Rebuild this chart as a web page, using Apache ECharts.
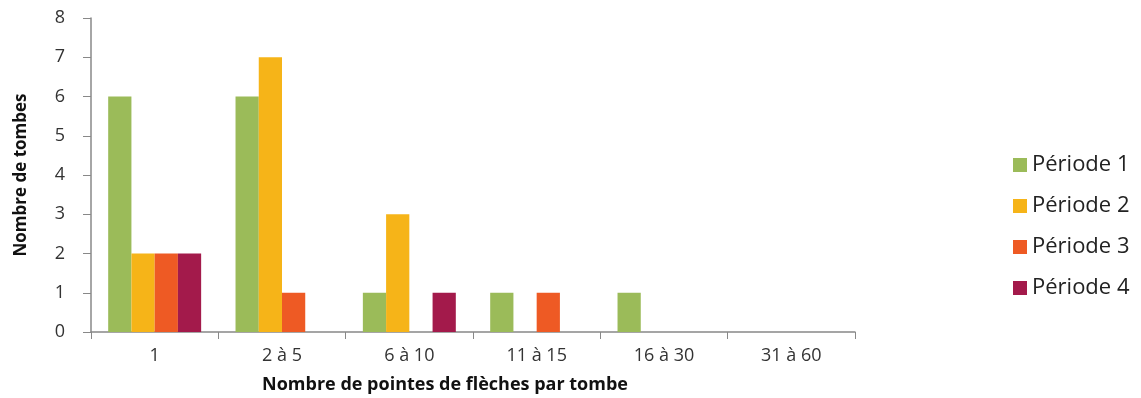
<!DOCTYPE html>
<html><head><meta charset="utf-8">
<script src="https://cdn.jsdelivr.net/npm/echarts@6/dist/echarts.min.js"></script>
<style>html,body{margin:0;padding:0;background:#fff}#c{width:1141px;height:398px}</style>
</head><body><div id="c"></div>
<script>
const categories = ['1', '2 à 5', '6 à 10', '11 à 15', '16 à 30', '31 à 60'];
const periode1 = [6, 6, 1, 1, 1, 0];
const periode2 = [2, 7, 3, 0, 0, 0];
const periode3 = [2, 1, 0, 1, 0, 0];
const periode4 = [2, 0, 1, 0, 0, 0];
const seriesNames = ['Période 1', 'Période 2', 'Période 3', 'Période 4'];
const colors = ['#9BBB59', '#F6B418', '#EE5A24', '#A31A4B'];
const yTicks = [0, 1, 2, 3, 4, 5, 6, 7, 8];

const font = '"Open Sans", "Noto Sans", sans-serif';
const chart = echarts.init(document.getElementById('c'), null, {renderer: 'canvas'});
const data = [periode1, periode2, periode3, periode4];
chart.setOption({
  animation: false,
  grid: {left: 91, right: 286, top: 18, bottom: 66, containLabel: false, outerBoundsMode: 'none'},
  legend: {
    orient: 'vertical', left: 1008, top: 149, itemGap: 19,
    itemWidth: 14, itemHeight: 14, icon: 'rect',
    textStyle: {fontFamily: font, fontSize: 22, color: '#222'},
    data: seriesNames
  },
  xAxis: {
    type: 'category', data: categories,
    name: 'Nombre de pointes de flèches par tombe',
    nameLocation: 'middle', nameGap: 44,
    nameTextStyle: {fontFamily: font, fontSize: 18, fontWeight: 'bold', color: '#111', padding: [0, 56, 0, 0]},
    axisLine: {lineStyle: {color: '#888', width: 1.5}},
    axisTick: {show: true, length: 7, lineStyle: {color: '#888'}},
    axisLabel: {fontFamily: font, fontSize: 18, color: '#333', margin: 15}
  },
  yAxis: {
    type: 'value', min: yTicks[0], max: yTicks[yTicks.length-1], interval: 1,
    name: 'Nombre de tombes', nameLocation: 'middle', nameGap: 61, nameRotate: 90,
    nameTextStyle: {fontFamily: font, fontSize: 17, fontWeight: 'bold', color: '#111'},
    axisLine: {show: true, lineStyle: {color: '#888', width: 1.5}},
    axisTick: {show: true, length: 8, lineStyle: {color: '#888'}},
    splitLine: {show: false},
    axisLabel: {fontFamily: font, fontSize: 18, color: '#333', margin: 26}
  },
  series: data.map((d, i) => ({
    name: seriesNames[i], type: 'bar', data: d,
    barGap: '0%', barCategoryGap: '27%',
    itemStyle: {color: colors[i]}
  }))
});
</script></body></html>
